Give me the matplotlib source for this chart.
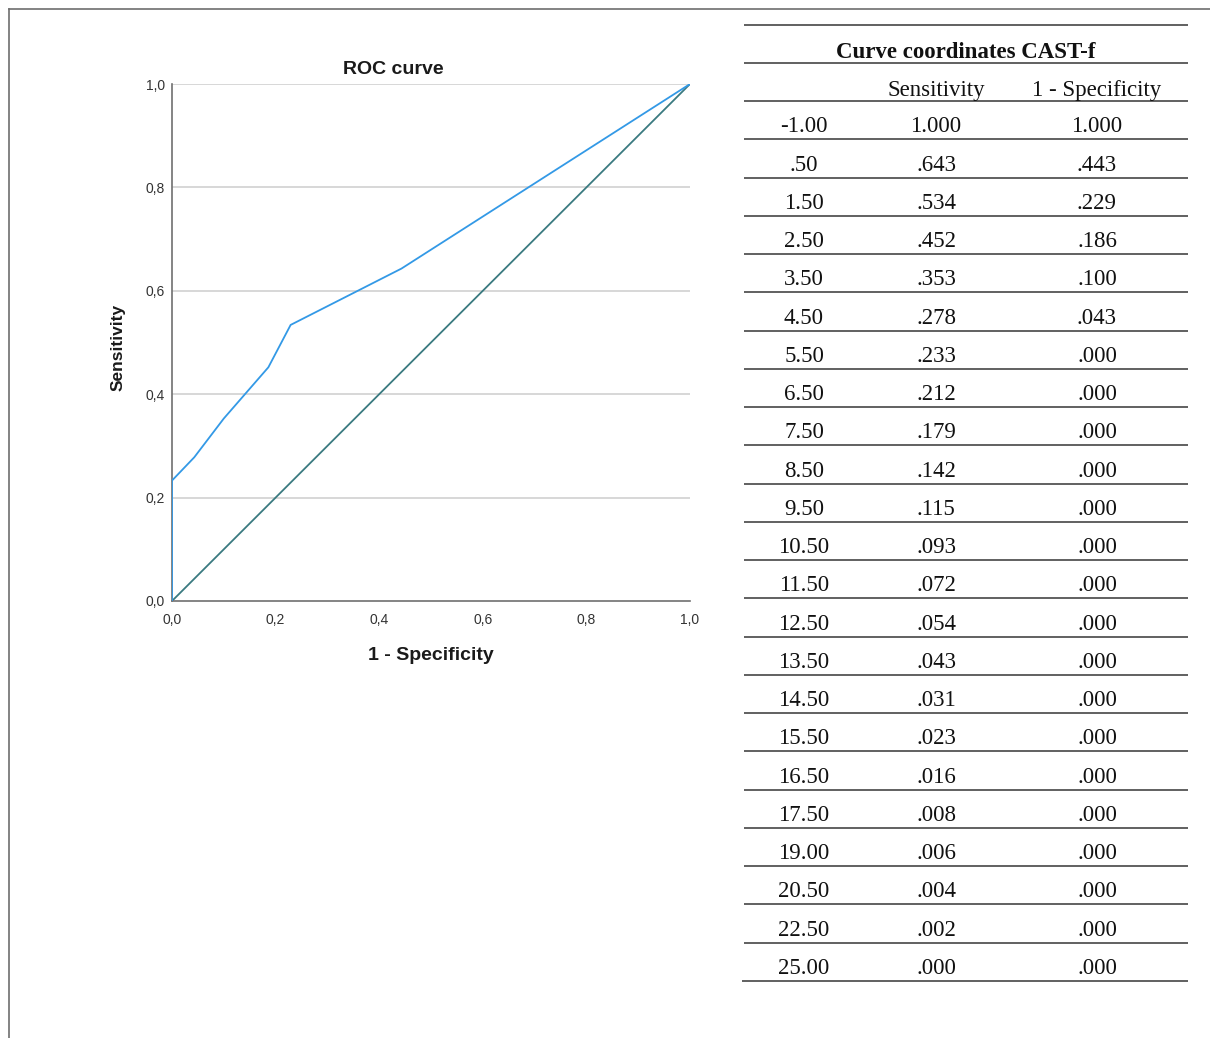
import numpy as np
import matplotlib.pyplot as plt
from matplotlib.lines import Line2D

# ROC coordinates for CAST-f (cut-off, sensitivity, 1 - specificity)
cutoffs = ["-1.00", ".50", "1.50", "2.50", "3.50", "4.50", "5.50", "6.50",
           "7.50", "8.50", "9.50", "10.50", "11.50", "12.50", "13.50",
           "14.50", "15.50", "16.50", "17.50", "19.00", "20.50", "22.50",
           "25.00"]
sensitivity = [1.000, .643, .534, .452, .353, .278, .233, .212, .179, .142,
               .115, .093, .072, .054, .043, .031, .023, .016, .008, .006,
               .004, .002, .000]
one_minus_spec = [1.000, .443, .229, .186, .100, .043, .000, .000, .000,
                  .000, .000, .000, .000, .000, .000, .000, .000, .000, .000,
                  .000, .000, .000, .000]
tick_vals = [0.0, 0.2, 0.4, 0.6, 0.8, 1.0]
tick_labels = ["0,0", "0,2", "0,4", "0,6", "0,8", "1,0"]

W, H = 1210, 1038
fig = plt.figure(figsize=(W / 100, H / 100), dpi=100)

# --- ROC chart ---
ax = fig.add_axes([172 / W, 1 - 601 / H, (690 - 172) / W, (601 - 84) / H])
ax.set_xlim(0, 1)
ax.set_ylim(0, 1)
for y in tick_vals[1:]:
    ax.axhline(y, color="#d4d4d4", lw=1.3, zorder=0)

ax.plot([0, 1], [0, 1], color="#3a7a80", lw=1.3, zorder=2)
# curve goes from (0,0) up through the points in reverse order
xs = one_minus_spec[::-1]
ys = sensitivity[::-1]
ax.plot(xs, ys, color="#3399e6", lw=1.3, zorder=3)

for s in ["top", "right"]:
    ax.spines[s].set_visible(False)
for s in ["left", "bottom"]:
    ax.spines[s].set_color("#707070")
    ax.spines[s].set_linewidth(1.2)
ax.set_xticks(tick_vals)
ax.set_xticklabels(tick_labels)
ax.set_yticks(tick_vals)
ax.set_yticklabels(tick_labels)
ax.tick_params(length=0, labelsize=10, labelcolor="#333333")
for lab in ax.get_xticklabels() + ax.get_yticklabels():
    lab.set_family("Liberation Sans")
ax.tick_params(axis="x", pad=9)
ax.tick_params(axis="y", pad=5)

fig.text(393 / W, 1 - 70 / H, "ROC curve", ha="center", va="center",
         fontsize=14, fontweight="bold", family="Liberation Sans", color="#1a1a1a")
fig.text(431 / W, 1 - 656 / H, "1 - Specificity", ha="center", va="center",
         fontsize=14, fontweight="bold", family="Liberation Sans", color="#1a1a1a")
fig.text(118 / W, 1 - 347 / H, "Sensitivity", ha="center", va="center",
         rotation=90, fontsize=12.5, fontweight="bold", family="Liberation Sans",
         color="#1a1a1a")

# --- table and frame, drawn in pixel coordinates ---
tx = fig.add_axes([0, 0, 1, 1])
tx.set_xlim(0, W)
tx.set_ylim(H, 0)
tx.axis("off")

fig.add_artist(Line2D([9 / W, 1], [1 - 9 / H, 1 - 9 / H], color="#6e6e6e", lw=1.2))
fig.add_artist(Line2D([9 / W, 9 / W], [0, 1 - 9 / H], color="#6e6e6e", lw=1.2))

left, right = 744, 1188
col_x = [804, 936, 1097]
row_h = (981 - 101) / len(cutoffs)
rule = dict(color="#606060", lw=1.4)
tfont = dict(family="Liberation Serif", fontsize=16.5, color="#111111",
             ha="center", va="baseline")

tx.hlines([25, 63, 101], left, right, **rule)
tx.text((left + right) / 2, 58, "Curve coordinates CAST-f",
        fontweight="bold", **tfont)
tx.text(col_x[1], 96, "Sensitivity", **tfont)
tx.text(col_x[2], 96, "1 - Specificity", **tfont)

for i, (c, s, f) in enumerate(zip(cutoffs, sensitivity, one_minus_spec)):
    bottom = 101 + row_h * (i + 1)
    tx.hlines(bottom, left if i < len(cutoffs) - 1 else 742, right, **rule)
    base = bottom - 7
    tx.text(col_x[0], base, c, **tfont)
    s_txt = "1.000" if s >= 1 else f"{s:.3f}"[1:]
    f_txt = "1.000" if f >= 1 else f"{f:.3f}"[1:]
    tx.text(col_x[1], base, s_txt, **tfont)
    tx.text(col_x[2], base, f_txt, **tfont)

fig.savefig("out.png", dpi=100)
